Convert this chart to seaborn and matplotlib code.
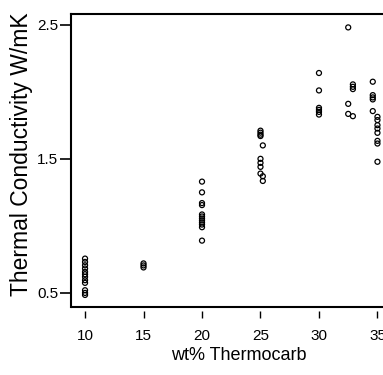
import numpy as np
import pandas as pd
import seaborn as sns
import matplotlib.pyplot as plt

# values, one list per column of points
wt_10 = [10] * 12
k_10 = [0.756, 0.731, 0.706, 0.682, 0.657, 0.639, 0.62, 0.595, 0.575, 0.52, 0.50, 0.485]
wt_15 = [15] * 3
k_15 = [0.72, 0.705, 0.69]
wt_20 = [20] * 12
k_20 = [1.33, 1.25, 1.17, 1.155, 1.085, 1.07, 1.055, 1.04, 1.025, 1.01, 0.99, 0.89]
wt_25 = [25, 25, 25, 25, 25.2, 25, 25, 25, 25, 25.2, 25.2]
k_25 = [1.71, 1.695, 1.68, 1.67, 1.60, 1.50, 1.47, 1.44, 1.39, 1.37, 1.335]
wt_30 = [30] * 6
k_30 = [2.14, 2.01, 1.88, 1.865, 1.85, 1.83]
wt_33 = [32.5, 32.5, 32.5, 32.9, 32.9, 32.9, 32.9]
k_33 = [2.48, 1.91, 1.835, 2.055, 2.037, 2.02, 1.818]
wt_35 = [34.6] * 5 + [35] * 8
k_35 = [2.075, 1.975, 1.958, 1.943, 1.856, 1.813, 1.789, 1.751, 1.726, 1.694, 1.634, 1.614, 1.478]

x_ticks = [10, 15, 20, 25, 30, 35]
y_ticks = [0.5, 1.5, 2.5]

df = pd.DataFrame({
    'wt': wt_10 + wt_15 + wt_20 + wt_25 + wt_30 + wt_33 + wt_35,
    'k': k_10 + k_15 + k_20 + k_25 + k_30 + k_33 + k_35,
})

sns.set_style('ticks')
plt.rcParams['font.family'] = ['Liberation Sans', 'DejaVu Sans']
plt.rcParams['text.color'] = 'black'
plt.rcParams['axes.labelcolor'] = 'black'

fig = plt.figure(figsize=(3.83, 3.75), dpi=100)
# axes runs past the right edge, like the cropped original
ax = fig.add_axes([71 / 383, 1 - 307 / 375, (395 - 71) / 383, (307 - 14) / 375])

sns.scatterplot(data=df, x='wt', y='k', ax=ax, marker='o', s=13,
                facecolor='none', edgecolor='black', linewidth=0.9, legend=False)

ax.set_xlim(8.8, 36.5)
ax.set_ylim(0.395, 2.58)
ax.set_xticks(x_ticks)
ax.set_xticklabels([str(t) for t in x_ticks])
ax.set_yticks(y_ticks)
ax.set_yticklabels([f'{t:.1f}' for t in y_ticks])

for side in ['left', 'top']:
    ax.spines[side].set_linewidth(1.5)
    ax.spines[side].set_color('black')
ax.spines['right'].set_visible(False)
# x ticks sit a little below the frame
ax.spines['bottom'].set_position(('outward', 3))
ax.spines['bottom'].set_visible(False)
ax.axhline(0.395, color='black', lw=1.5, clip_on=False)

ax.tick_params(axis='y', direction='out', length=8, width=1.2, pad=1, labelsize=11,
               colors='black', labelcolor='black')
ax.tick_params(axis='x', direction='out', length=5, width=1.0, pad=8, labelsize=11,
               colors='black', labelcolor='black')

ax.set_xlabel('wt% Thermocarb', fontsize=13, color='black')
ax.set_ylabel('Thermal Conductivity W/mK', fontsize=16.5, color='black')
ax.xaxis.set_label_coords(0.518, -0.135)
ax.xaxis.label.set_va('top')
ax.yaxis.set_label_coords(-0.118, 0.52)

plt.savefig('out.png', dpi=100)
